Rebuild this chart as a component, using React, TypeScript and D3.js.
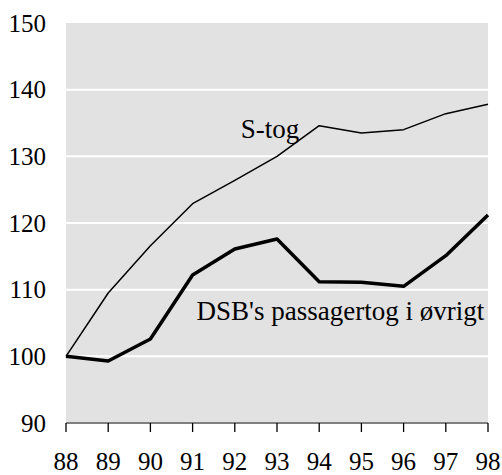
import * as d3 from "d3";

const years = ["88", "89", "90", "91", "92", "93", "94", "95", "96", "97", "98"];
const sTog = [100, 109.5, 116.6, 122.9, 126.4, 130.0, 134.6, 133.5, 134.0, 136.4, 137.8];
const dsbOevrigt = [100, 99.3, 102.6, 112.2, 116.1, 117.6, 111.2, 111.1, 110.5, 115.1, 121.2];
const yTicks = [90, 100, 110, 120, 130, 140, 150];

const WIDTH = 502;
const HEIGHT = 475;
const FONT = "Liberation Serif";

const margin = { top: 23, right: 14, bottom: 52, left: 66 };
const innerWidth = WIDTH - margin.left - margin.right;
const innerHeight = HEIGHT - margin.top - margin.bottom;

const App = () => {
  const xScale = d3.scalePoint().domain(years).range([0, innerWidth]);
  const yScale = d3.scaleLinear().domain([90, 150]).range([innerHeight, 0]);

  const line = d3
    .line<number>()
    .x((_, i) => xScale(years[i]) as number)
    .y((d) => yScale(d));

  return (
    <svg
      width={WIDTH}
      height={HEIGHT}
      fontFamily={FONT}
      style={{ display: "block", position: "absolute", left: 0, top: 0, background: "#fff" }}
    >
      <g transform={`translate(${margin.left},${margin.top})`}>
        <rect x={0} y={0} width={innerWidth} height={innerHeight} fill="#e2e2e2" />

        {yTicks
          .filter((t) => t > 90 && t < 150)
          .map((t) => (
            <line
              key={`grid-${t}`}
              x1={0}
              x2={innerWidth}
              y1={yScale(t)}
              y2={yScale(t)}
              stroke="#fff"
              strokeWidth={2}
            />
          ))}

        {yTicks.map((t) => (
          <text
            key={`yl-${t}`}
            x={-20}
            y={yScale(t)}
            dy="0.35em"
            textAnchor="end"
            fontSize={25}
            fill="#000"
          >
            {t}
          </text>
        ))}

        {/* x axis */}
        <line x1={0} x2={innerWidth} y1={innerHeight} y2={innerHeight} stroke="#808080" strokeWidth={2} />
        {years.map((yr) => (
          <g key={`xt-${yr}`} transform={`translate(${xScale(yr)},${innerHeight})`}>
            <line y1={0} y2={9} stroke="#000" strokeWidth={1.3} />
            <text y={47} textAnchor="middle" fontSize={25} fill="#000">
              {yr}
            </text>
          </g>
        ))}

        <path d={line(sTog) ?? ""} fill="none" stroke="#000" strokeWidth={1.5} strokeLinejoin="round" />
        <path d={line(dsbOevrigt) ?? ""} fill="none" stroke="#000" strokeWidth={3.5} strokeLinejoin="round" />

        <text x={(xScale("92") as number) + 6} y={yScale(132.8)} fontSize={27} fill="#000">
          S-tog
        </text>
        <text x={(xScale("91") as number) + 4} y={yScale(105.4)} fontSize={27} fill="#000">
          DSB's passagertog i øvrigt
        </text>
      </g>
    </svg>
  );
};

export default App;
